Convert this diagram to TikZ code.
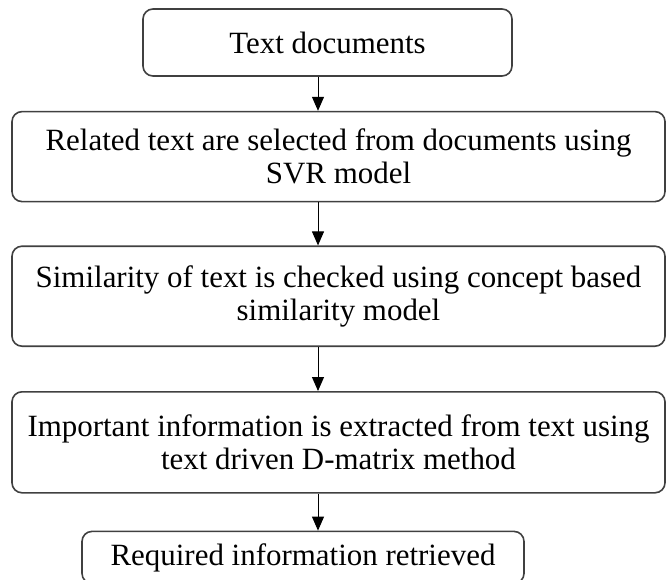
\documentclass[tikz,border=0pt]{standalone}
\usepackage{fontspec}
\setmainfont{Liberation Serif}
\usetikzlibrary{arrows.meta,positioning}

\begin{document}
\begin{tikzpicture}[
  node distance=25.5pt,
  box/.style={draw=black!75,line width=1.2pt,rounded corners=7.5pt,align=center,inner sep=0pt,
    font=\fontsize{23.2pt}{24.75pt}\selectfont},
  arr/.style={-{Triangle[length=10.5pt,width=9pt]},line width=0.75pt}
]
\useasboundingbox (0,0) rectangle (500.25pt,-434.25pt);
\coordinate (col) at (238.5pt,0);
\node[box,minimum width=276.75pt,minimum height=50.25pt] (docs) at (245.625pt,-31.875pt) {Text documents};
\node[box,below=25.5pt of docs,xshift=8.25pt,minimum width=489.75pt,minimum height=67.5pt] (select)
  {Related text are selected from documents using\\SVR model};
\node[box,below=32.25pt of select,minimum width=489.75pt,minimum height=75pt] (simil)
  {Similarity of text is checked using concept based\\similarity model};
\node[box,below=33pt of simil,minimum width=489.75pt,minimum height=75.75pt] (extract)
  {Important information is extracted from text using\\text driven D-matrix method};
\node[box,below=27.75pt of extract,xshift=-26.625pt,minimum width=331.5pt,minimum height=39pt] (result)
  {Required information retrieved};
\draw[arr] (docs.south -| col) -- (select.north -| col);
\draw[arr] (select.south -| col) -- (simil.north -| col);
\draw[arr] (simil.south -| col) -- (extract.north -| col);
\draw[arr] (extract.south -| col) -- (result.north -| col);
\end{tikzpicture}
\end{document}
